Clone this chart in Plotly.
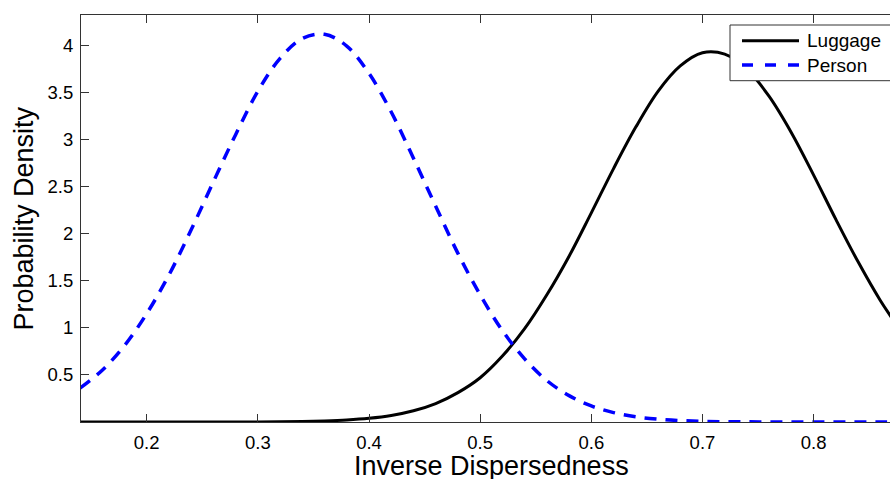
import plotly.graph_objects as go

# ---- data ----
x_vals = [0.14, 0.16, 0.18, 0.20, 0.22, 0.24, 0.26, 0.28, 0.30, 0.32,
          0.34, 0.36, 0.38, 0.40, 0.42, 0.44, 0.46, 0.48, 0.50, 0.52,
          0.54, 0.56, 0.58, 0.60, 0.62, 0.64, 0.66, 0.68, 0.70, 0.72,
          0.74, 0.76, 0.78, 0.80, 0.82, 0.84, 0.86, 0.88]

luggage = [0.0, 0.0, 0.0, 0.0, 0.0, 0.0001, 0.0002, 0.0004, 0.0012, 0.0026,
           0.0054, 0.011, 0.021, 0.039, 0.069, 0.119, 0.196, 0.312, 0.47, 0.70,
           0.99, 1.35, 1.76, 2.22, 2.69, 3.13, 3.51, 3.78, 3.92, 3.905,
           3.745, 3.455, 3.07, 2.62, 2.15, 1.70, 1.29, 0.94]

person = [0.36, 0.55, 0.81, 1.15, 1.56, 2.04, 2.55, 3.05, 3.51, 3.86,
          4.07, 4.115, 3.99, 3.70, 3.29, 2.80, 2.29, 1.79, 1.35, 0.97,
          0.67, 0.44, 0.28, 0.17, 0.10, 0.055, 0.03, 0.015, 0.007, 0.003,
          0.0015, 0.0006, 0.0002, 0.0001, 0.0, 0.0, 0.0, 0.0]

x_ticks = [0.2, 0.3, 0.4, 0.5, 0.6, 0.7, 0.8]
x_tick_labels = ["0.2", "0.3", "0.4", "0.5", "0.6", "0.7", "0.8"]
y_ticks = [0.5, 1, 1.5, 2, 2.5, 3, 3.5, 4]
y_tick_labels = ["0.5", "1", "1.5", "2", "2.5", "3", "3.5", "4"]

series_names = ["Luggage", "Person"]

# ---- layout geometry (pixels) ----
W, H = 890, 479
ML, MR, MT, MB = 81, 0, 15, 57
PW = W - ML - MR
PH = H - MT - MB


def px_x(p):
    return (p - ML) / PW


def px_y(p):
    return (H - MB - p) / PH


FONT = "Liberation Sans, Arial, Helvetica, sans-serif"
AXIS_COL = "#333333"

fig = go.Figure()
fig.add_trace(go.Scatter(
    x=x_vals, y=luggage, mode="lines", name=series_names[0],
    line=dict(color="black", width=3, shape="spline"),
    showlegend=False,
))
fig.add_trace(go.Scatter(
    x=x_vals, y=person, mode="lines", name=series_names[1],
    line=dict(color="#0000ff", width=3.5, dash="12px,9px", shape="spline"),
    showlegend=False,
))

fig.update_layout(
    width=W, height=H,
    margin=dict(l=ML, r=MR, t=MT, b=MB, pad=0),
    paper_bgcolor="white", plot_bgcolor="white",
    font=dict(family=FONT, color="black"),
    xaxis=dict(
        range=[0.1409, 0.8687],
        tickmode="array", tickvals=x_ticks, ticktext=x_tick_labels,
        ticks="inside", ticklen=8, tickwidth=1, tickcolor=AXIS_COL,
        showline=True, linecolor=AXIS_COL, linewidth=1, mirror="ticks",
        showgrid=False, zeroline=False,
        tickfont=dict(size=18.5, family=FONT, color="black"),
        ticklabelstandoff=4,
    ),
    yaxis=dict(
        range=[0, 4.32],
        tickmode="array", tickvals=y_ticks, ticktext=y_tick_labels,
        ticks="inside", ticklen=8, tickwidth=1, tickcolor=AXIS_COL,
        showline=True, linecolor=AXIS_COL, linewidth=1, mirror=False,
        showgrid=False, zeroline=False,
        tickfont=dict(size=18.5, family=FONT, color="black"),
        ticklabelstandoff=3,
    ),
)

# axis titles
fig.add_annotation(
    text="Inverse Dispersedness", xref="paper", yref="paper",
    x=px_x(491), y=px_y(466), xanchor="center", yanchor="middle",
    showarrow=False, font=dict(size=27, family=FONT, color="black"),
)
fig.add_annotation(
    text="Probability Density", xref="paper", yref="paper",
    x=px_x(23), y=0.5, xanchor="center", yanchor="middle", textangle=-90,
    showarrow=False, font=dict(size=27, family=FONT, color="black"),
)

# legend box (drawn manually to match the long sample lines)
fig.add_shape(
    type="rect", xref="paper", yref="paper",
    x0=px_x(730), x1=px_x(900), y0=px_y(80.7), y1=px_y(25),
    line=dict(color=AXIS_COL, width=1), fillcolor="white", layer="above",
)
fig.add_shape(
    type="line", xref="paper", yref="paper",
    x0=px_x(742), x1=px_x(799), y0=px_y(40.7), y1=px_y(40.7),
    line=dict(color="black", width=3), layer="above",
)
fig.add_shape(
    type="line", xref="paper", yref="paper",
    x0=px_x(742), x1=px_x(799), y0=px_y(65), y1=px_y(65),
    line=dict(color="#0000ff", width=3.5, dash="11px,12px"), layer="above",
)
for name, py in zip(series_names, [40.7, 65]):
    fig.add_annotation(
        text=name, xref="paper", yref="paper",
        x=px_x(805), y=px_y(py), xanchor="left", yanchor="middle",
        showarrow=False, font=dict(size=19, family=FONT, color="black"),
    )

fig.write_html(
    "out.html",
    config={"displayModeBar": False},
    post_script="document.body.style.margin='0';document.body.style.overflow='hidden';",
)
